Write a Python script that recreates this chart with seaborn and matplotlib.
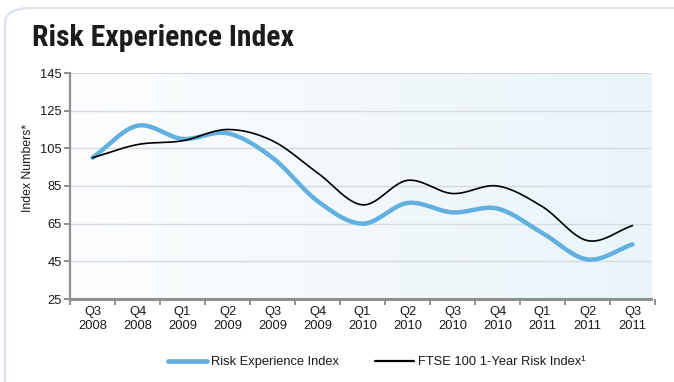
import numpy as np
import pandas as pd
import matplotlib
matplotlib.use("Agg")
import matplotlib.pyplot as plt
from matplotlib.patches import FancyBboxPatch
from matplotlib.lines import Line2D
import seaborn as sns

# Quarterly index values
quarters = ["Q3\n2008", "Q4\n2008", "Q1\n2009", "Q2\n2009", "Q3\n2009", "Q4\n2009",
            "Q1\n2010", "Q2\n2010", "Q3\n2010", "Q4\n2010", "Q1\n2011", "Q2\n2011",
            "Q3\n2011"]
risk_experience = [100, 117, 110, 113, 100, 77, 65, 76, 71, 73, 60, 46, 54]
ftse_risk = [100, 107, 109, 115, 109, 92, 75, 88, 81, 85, 74, 56, 64]
series_names = ["Risk Experience Index", "FTSE 100 1-Year Risk Index\u00b9"]
y_ticks = [25, 45, 65, 85, 105, 125, 145]

BLUE = "#62b0df"
GREY_AXIS = "#8f8f8f"


def catmull_rom(values, steps=30):
    """Smooth curve through the points (rendering only)."""
    p = np.asarray(values, dtype=float)
    n = len(p)
    ext = np.concatenate([[2 * p[0] - p[1]], p, [2 * p[-1] - p[-2]]])
    xs, ys = [], []
    for i in range(n - 1):
        p0, p1, p2, p3 = ext[i], ext[i + 1], ext[i + 2], ext[i + 3]
        t = np.linspace(0, 1, steps, endpoint=(i == n - 2))
        y = 0.5 * ((2 * p1) + (-p0 + p2) * t + (2 * p0 - 5 * p1 + 4 * p2 - p3) * t ** 2
                   + (-p0 + 3 * p1 - 3 * p2 + p3) * t ** 3)
        xs.append(i + t)
        ys.append(y)
    return np.concatenate(xs), np.concatenate(ys)


frames = []
for name, vals in zip(series_names, [risk_experience, ftse_risk]):
    x, y = catmull_rom(vals)
    frames.append(pd.DataFrame({"x": x, "value": y, "series": name}))
df = pd.concat(frames, ignore_index=True)

sns.set_theme(style="white")
plt.rcParams["font.family"] = ["Liberation Sans", "DejaVu Sans"]

fig = plt.figure(figsize=(6.74, 3.82), dpi=100)
fig.patch.set_facecolor("white")

# Rounded panel outline
panel = FancyBboxPatch((5 / 674, -0.2), 1.2, 1 - 8 / 382 + 0.2,
                       boxstyle="round,pad=0,rounding_size=0.04",
                       transform=fig.transFigure, facecolor="none",
                       edgecolor="#dce3ec", linewidth=1.6, zorder=0)
fig.patches.append(panel)

ax = fig.add_axes([70 / 674, 1 - 299 / 382, 585 / 674, 226 / 382])

# Soft left-to-right gradient in the plotting area
grad = np.linspace(0, 1, 256).reshape(1, -1)
cmap = matplotlib.colors.LinearSegmentedColormap.from_list(
    "panel", ["#fcfdfe", "#f2f8fb", "#eaf5fa"])
ax.imshow(grad, extent=(-0.5, 12.42, 25, 145), aspect="auto", cmap=cmap,
          zorder=0, interpolation="bicubic")

for yv in y_ticks[1:]:
    ax.plot([-0.5, 12.38], [yv, yv], color="#d6d9dd", linewidth=1.0, zorder=1)

sns.lineplot(data=df, x="x", y="value", hue="series", hue_order=series_names,
             palette=[BLUE, "black"], size="series", sizes=[3.2, 1.2],
             size_order=series_names, ax=ax, legend=False, zorder=3,
             sort=False, estimator=None)

ax.set_xlim(-0.5, 12.5)
ax.set_ylim(25, 145)
ax.set_yticks(y_ticks)
ax.set_yticklabels([str(v) for v in y_ticks])
ax.set_xticks(np.arange(-0.5, 13, 1.0))
ax.set_xticklabels([])
ax.set_xticks(np.arange(13), minor=True)
ax.set_xticklabels(quarters, minor=True, fontsize=9.3, linespacing=1.2)
ax.tick_params(axis="x", which="minor", length=0, pad=5, labelcolor="#1a1a1a")
ax.tick_params(axis="x", which="major", length=4, width=1.4, color=GREY_AXIS,
               direction="out", bottom=True)
ax.tick_params(axis="y", length=4, width=1.4, color=GREY_AXIS, direction="out",
               left=True, labelsize=9.3, labelcolor="#1a1a1a", pad=2)
ax.set_xlabel("")
ax.set_ylabel("")

for side in ["top", "right"]:
    ax.spines[side].set_visible(False)
ax.spines["left"].set_color(GREY_AXIS)
ax.spines["left"].set_linewidth(1.6)
ax.spines["bottom"].set_color(GREY_AXIS)
ax.spines["bottom"].set_linewidth(2.2)
ax.spines["bottom"].set_bounds(-0.5, 12.42)

fig.text(28 / 674, 1 - 168 / 382, "Index Numbers*", rotation=90, fontsize=8.8,
         ha="center", va="center", color="#1a1a1a")

fig.text(32 / 674, 1 - 38 / 382, "Risk Experience Index", fontsize=21.4,
         fontweight="bold", ha="left", va="center", color="#1c1c1c",
         family=["Liberation Sans Narrow", "Roboto Condensed", "Liberation Sans"])

handles = [Line2D([], [], color=BLUE, linewidth=3.4),
           Line2D([], [], color="black", linewidth=1.6)]
fig.legend(handles, series_names, loc="center", ncol=2,
           bbox_to_anchor=(377 / 674, 1 - 362 / 382), frameon=False,
           fontsize=9.3, handlelength=3.0, handletextpad=0.3, columnspacing=2.8,
           labelcolor="#1a1a1a")

fig.savefig("out.png", dpi=100, facecolor="white")
